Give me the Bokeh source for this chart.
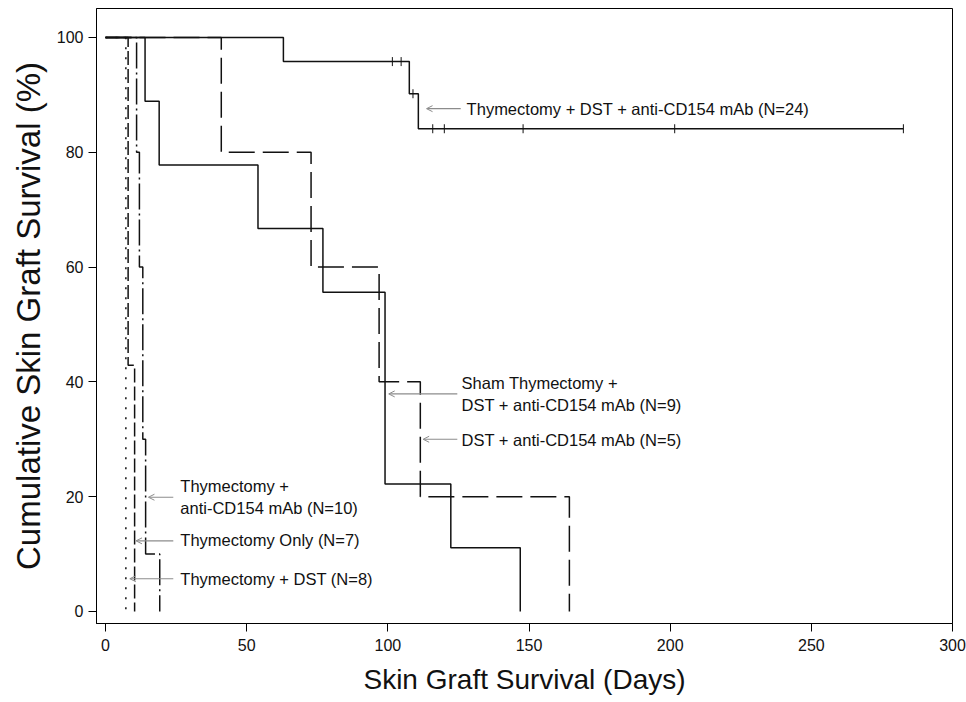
import numpy as np
from bokeh.plotting import figure
from bokeh.models import Range1d, FixedTicker, Arrow, OpenHead, Label
from bokeh.embed import file_html
from bokeh.resources import INLINE

# ---------------- data ----------------
# Thymectomy + DST + anti-CD154 mAb (N=24)
thy_dst_cd154_days = [0, 63, 107.6, 110.8, 282.6]
thy_dst_cd154_surv = [100, 95.8, 90.2, 84.1, 84.1]
thy_dst_cd154_cens_days = [101.6, 104.7, 108.9, 115.9, 120.0, 147.9, 201.6, 282.6]
thy_dst_cd154_cens_surv = [95.8, 95.8, 90.2, 84.1, 84.1, 84.1, 84.1, 84.1]
# Sham Thymectomy + DST + anti-CD154 mAb (N=9)
sham_days = [0, 14, 19, 54, 77, 99, 122.3, 146.9]
sham_surv = [100, 88.9, 77.8, 66.7, 55.6, 22.2, 11.1, 0]
# DST + anti-CD154 mAb (N=5)
dst_cd154_days = [0, 41, 72.8, 96.9, 111.5, 164.3]
dst_cd154_surv = [100, 80, 60, 40, 20, 0]
# Thymectomy + anti-CD154 mAb (N=10)
thy_cd154_days = [0, 11, 12, 13.2, 14.2, 19.2]
thy_cd154_surv = [100, 80, 60, 30, 10, 0]
# Thymectomy Only (N=7)
thy_only_days = [0, 8, 10.3]
thy_only_surv = [100, 42.9, 0]
# Thymectomy + DST (N=8)
thy_dst_days = [0, 7.2]
thy_dst_surv = [100, 0]

x_ticks = [0, 50, 100, 150, 200, 250, 300]
y_ticks = [0, 20, 40, 60, 80, 100]

x_title = "Skin Graft Survival (Days)"
y_title = "Cumulative Skin Graft Survival (%)"

# annotation texts: (lines, text x, text y per line, arrow tail x, arrow tip x, arrow y)
ann_lines = [
    ["Thymectomy + DST + anti-CD154 mAb (N=24)"],
    ["Sham Thymectomy +", "DST + anti-CD154 mAb (N=9)"],
    ["DST + anti-CD154 mAb (N=5)"],
    ["Thymectomy +", "anti-CD154 mAb (N=10)"],
    ["Thymectomy Only (N=7)"],
    ["Thymectomy + DST (N=8)"],
]
ann_text_x = [127.9, 126.1, 126.1, 26.5, 26.5, 26.5]
ann_text_y = [[87.6], [39.8, 36.0], [29.8], [21.9, 18.1], [12.4], [5.7]]
ann_tail_x = [125.8, 124.6, 124.6, 24.0, 24.0, 24.0]
ann_tip_x = [113.7, 100.3, 112.5, 15.2, 10.8, 8.6]
ann_arrow_y = [87.6, 37.9, 30.0, 19.9, 12.3, 5.7]

# ---------------- figure ----------------
p = figure(width=966, height=700, output_backend="svg", toolbar_location=None,
           x_range=Range1d(-3.2, 300), y_range=Range1d(-2.1, 105.05),
           min_border_left=96, min_border_right=14, min_border_top=8, min_border_bottom=77)
p.grid.visible = False
p.outline_line_color = "black"
p.outline_line_width = 1
p.background_fill_color = "white"
p.border_fill_color = "white"

BLACK = "#111111"
p.step(thy_dst_cd154_days, thy_dst_cd154_surv, mode="after", line_color=BLACK, line_width=1.5)
p.scatter(thy_dst_cd154_cens_days, thy_dst_cd154_cens_surv, marker="dash", angle=np.pi / 2,
          size=9, line_color=BLACK, line_width=1)
p.step(sham_days, sham_surv, mode="after", line_color=BLACK, line_width=1.5)
p.step(dst_cd154_days, dst_cd154_surv, mode="after", line_color=BLACK, line_width=1.5,
       line_dash="26 8")
p.step(thy_cd154_days, thy_cd154_surv, mode="after", line_color=BLACK, line_width=1.5,
       line_dash="26 4 2 4")
p.step(thy_only_days, thy_only_surv, mode="after", line_color=BLACK, line_width=1.5,
       line_dash="14 4")
p.step(thy_dst_days, thy_dst_surv, mode="after", line_color=BLACK, line_width=1.5,
       line_dash="2 8")

GRAY = "#8c8c8c"
for lines, tx, tys, xs, xe, ay in zip(ann_lines, ann_text_x, ann_text_y, ann_tail_x, ann_tip_x, ann_arrow_y):
    p.add_layout(Arrow(end=OpenHead(size=6, line_color=GRAY, line_width=1),
                       x_start=xs, y_start=ay, x_end=xe, y_end=ay,
                       line_color=GRAY, line_width=1.2))
    for t, ty in zip(lines, tys):
        p.add_layout(Label(x=tx, y=ty, text=t, text_font="Liberation Sans", text_font_size="16.5px",
                           text_baseline="middle", text_align="left", text_color=BLACK))

for ax in (p.xaxis[0], p.yaxis[0]):
    ax.axis_line_color = "black"
    ax.major_tick_line_color = "black"
    ax.major_tick_out = 8
    ax.major_tick_in = 0
    ax.minor_tick_line_color = None
    ax.major_label_text_font = "Liberation Sans"
    ax.major_label_text_font_size = "16px"
    ax.major_label_text_color = BLACK
    ax.axis_label_text_font_style = "normal"
    ax.axis_label_text_color = BLACK
    ax.axis_label_text_font = "Liberation Sans"

p.xaxis.ticker = FixedTicker(ticks=x_ticks)
p.yaxis.ticker = FixedTicker(ticks=y_ticks)
p.xaxis.axis_label = x_title
p.yaxis.axis_label = y_title
p.xaxis.axis_label_text_font_size = "28px"
p.yaxis.axis_label_text_font_size = "33px"
p.xaxis.major_label_standoff = 7
p.xaxis.axis_label_standoff = 10
p.yaxis.major_label_standoff = 5
p.yaxis.axis_label_standoff = 7

open("out.html", "w").write(file_html(p, INLINE))
